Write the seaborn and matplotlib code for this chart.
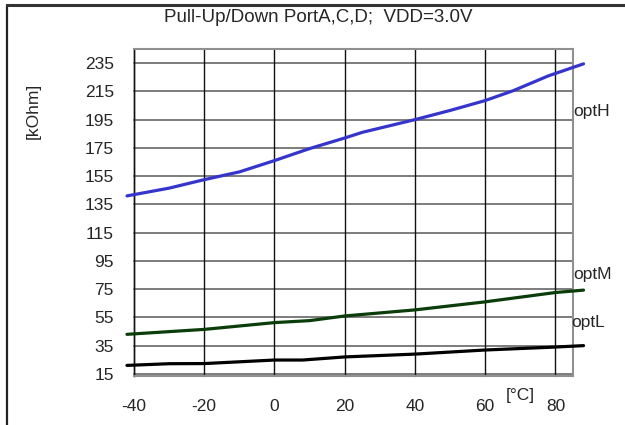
import numpy as np
import pandas as pd
import matplotlib
matplotlib.use("Agg")
import matplotlib.pyplot as plt
import seaborn as sns

# values
temp_H = [-42, -30, -20, -10, 0, 10, 20, 25, 40, 50, 60, 68, 78, 88]
res_H = [141, 146.5, 152.5, 158, 166, 174.5, 182, 186, 195, 201.5, 208.5, 215.5, 226, 234.5]

temp_M = [-42, -20, 0, 10, 20, 40, 60, 80, 88]
res_M = [43, 46.5, 51.3, 52.7, 56, 60.3, 66, 72.6, 74.3]

temp_L = [-42, -30, -20, 0, 8, 20, 40, 60, 80, 88]
res_L = [21, 22.2, 22.3, 24.8, 24.8, 27, 29, 31.9, 34, 35]

x_ticks = [-40, -20, 0, 20, 40, 60, 80]
y_ticks = [15, 35, 55, 75, 95, 115, 135, 155, 175, 195, 215, 235]

sns.set_style("white")
plt.rcParams['font.family'] = ['Liberation Sans', 'DejaVu Sans']
plt.rcParams['axes.unicode_minus'] = False

fig = plt.figure(figsize=(6.25, 4.25), dpi=100)
ax = fig.add_axes([0.2144, 0.1153, 0.7024, 0.7694])

# grid first so the curves sit on top
for yv in y_ticks:
    ax.axhline(yv, color='#666666', lw=1.2, zorder=1)
for xv in x_ticks:
    ax.axvline(xv, color='#111111', lw=1.0, zorder=1)

df_H = pd.DataFrame({'t': temp_H, 'r': res_H})
df_M = pd.DataFrame({'t': temp_M, 'r': res_M})
df_L = pd.DataFrame({'t': temp_L, 'r': res_L})

sns.lineplot(data=df_H, x='t', y='r', ax=ax, color='#3535cc', lw=2.3, zorder=3)
sns.lineplot(data=df_M, x='t', y='r', ax=ax, color='#0a3d0a', lw=2.3, zorder=3)
sns.lineplot(data=df_L, x='t', y='r', ax=ax, color='#000000', lw=2.3, zorder=3)
for ln in ax.lines:
    ln.set_clip_on(False)

ax.set_xlim(-40, 85)
ax.set_ylim(13.5, 245)
ax.set_xticks(x_ticks)
ax.set_yticks(y_ticks)
ax.set_xlabel("")
ax.set_ylabel("")
ax.tick_params(axis='both', direction='inout', length=9, width=1, color='#111111',
               labelsize=12.5)
ax.tick_params(axis='y', pad=10)
ax.tick_params(axis='x', pad=12)

for side in ['top', 'right', 'bottom']:
    ax.spines[side].set_color('#909090')
    ax.spines[side].set_linewidth(1.5)
ax.spines['left'].set_color('#111111')
ax.spines['left'].set_linewidth(1.0)

# curve names at the right edge
ax.text(1.0, 0.81, "optH", transform=ax.transAxes, fontsize=12.5, va='center', ha='left')
ax.text(1.0, 0.309, "optM", transform=ax.transAxes, fontsize=12.5, va='center', ha='left')
ax.text(0.995, 0.165, "optL", transform=ax.transAxes, fontsize=12.5, va='center', ha='left')

fig.text(0.509, 0.958, "Pull-Up/Down PortA,C,D;  VDD=3.0V", fontsize=13.5, ha='center', va='center')
fig.text(0.053, 0.74, "[kOhm]", fontsize=12.5, rotation=90, ha='center', va='center')
fig.text(0.833, 0.07, "[°C]", fontsize=12.5, ha='center', va='center')

# outer frame: only left and top edges fall inside the picture
fig.add_artist(plt.Line2D([0.0104, 0.0104], [0.0, 0.9875], color='#222222', lw=1.6))
fig.add_artist(plt.Line2D([0.0104, 1.0], [0.9875, 0.9875], color='#333333', lw=2.2))

fig.savefig("out.png", dpi=100)
